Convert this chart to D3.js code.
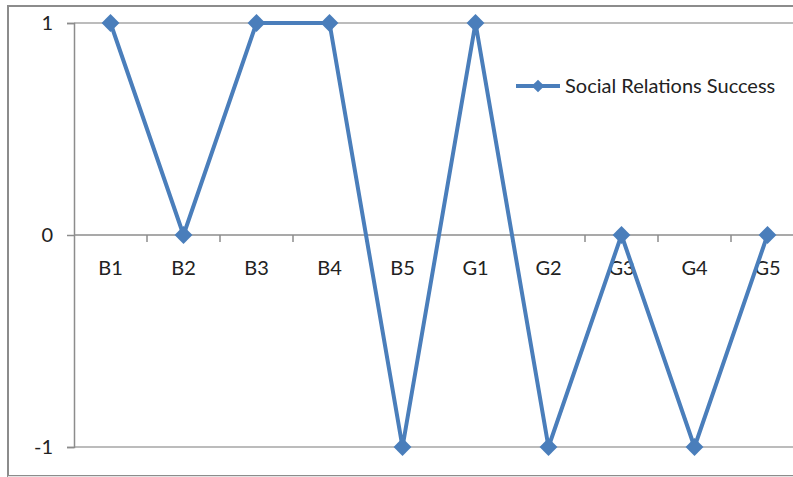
<!DOCTYPE html>
<html>
<head>
<meta charset="utf-8">
<script src="https://cdn.jsdelivr.net/npm/d3@7"></script>
<style>
  html, body { margin: 0; padding: 0; background: #fff; }
  svg { display: block; }
  text { font-family: Lato, "Open Sans", "Liberation Sans", sans-serif; fill: #222; }
</style>
</head>
<body>
<script>
// Data
const categories = ["B1", "B2", "B3", "B4", "B5", "G1", "G2", "G3", "G4", "G5"];
const successValues = [1, 0, 1, 1, -1, 1, -1, 0, -1, 0];
const yTicks = [-1, 0, 1];
const seriesName = "Social Relations Success";

const W = 793, H = 477;
const svg = d3.select("body").append("svg").attr("width", W).attr("height", H);

// Outer chart frame
svg.append("rect")
  .attr("x", 8).attr("y", 6).attr("width", W + 10).attr("height", 470)
  .attr("fill", "none").attr("stroke", "#8c8c8c").attr("stroke-width", 2);
svg.append("line")
  .attr("x1", 8).attr("x2", W).attr("y1", 476.5).attr("y2", 476.5)
  .attr("stroke", "#e4e4e4").attr("stroke-width", 1);

const plotLeft = 74, plotRight = 804, plotTop = 23, plotBottom = 447;

const x = d3.scaleBand().domain(categories).range([plotLeft, plotRight]).padding(0);
const y = d3.scaleLinear().domain([-1, 1]).range([plotBottom, plotTop]);

// Horizontal gridlines
svg.append("g").selectAll("line").data(yTicks.filter(d => d !== 0)).join("line")
  .attr("x1", plotLeft).attr("x2", plotRight)
  .attr("y1", d => y(d)).attr("y2", d => y(d))
  .attr("stroke", "#a6a6a6").attr("stroke-width", 1.5);

// Y axis
const yAxis = svg.append("g").attr("transform", `translate(${plotLeft},0)`)
  .call(d3.axisLeft(y).tickValues(yTicks).tickFormat(d3.format("d")).tickSize(7).tickPadding(14));
yAxis.select(".domain").attr("stroke", "#8c8c8c").attr("stroke-width", 1.5);
yAxis.selectAll(".tick line").attr("stroke", "#8c8c8c").attr("stroke-width", 1.5);
yAxis.selectAll(".tick text").style("font-size", "20px").attr("fill", "#222")
  .text(d => d < 0 ? "-" + Math.abs(d) : d);

// Category axis at zero
const xAxis = svg.append("g").attr("transform", `translate(0,${y(0)})`)
  .call(d3.axisBottom(x).tickSize(0).tickPadding(26));
xAxis.select(".domain").remove();
xAxis.selectAll(".tick text").style("font-size", "20px").attr("fill", "#222");
svg.append("line")
  .attr("x1", plotLeft).attr("x2", plotRight).attr("y1", y(0)).attr("y2", y(0))
  .attr("stroke", "#8c8c8c").attr("stroke-width", 1.5);
svg.append("g").selectAll("line").data(categories.slice(1)).join("line")
  .attr("x1", d => x(d)).attr("x2", d => x(d))
  .attr("y1", y(0)).attr("y2", y(0) + 7)
  .attr("stroke", "#8c8c8c").attr("stroke-width", 1.5);

// Series line
const color = "#4a7ebb";
const pts = categories.map((c, i) => [x(c) + x.bandwidth() / 2, y(successValues[i])]);
svg.append("path")
  .attr("d", d3.line()(pts))
  .attr("fill", "none").attr("stroke", color).attr("stroke-width", 4)
  .attr("stroke-linejoin", "round");

// Diamond markers: a square turned 45 degrees
const diamond = d3.symbol().type(d3.symbolSquare).size(160);
svg.append("g").selectAll("path").data(pts).join("path")
  .attr("transform", d => `translate(${d[0]},${d[1]}) rotate(45)`)
  .attr("d", diamond)
  .attr("fill", color);

// Legend
const legendDiamond = d3.symbol().type(d3.symbolSquare).size(80);
const lg = svg.append("g").attr("transform", "translate(516,86)");
lg.append("line").attr("x1", 0).attr("x2", 44).attr("y1", 0).attr("y2", 0)
  .attr("stroke", color).attr("stroke-width", 4);
lg.append("path").attr("transform", "translate(22,0) rotate(45)").attr("d", legendDiamond).attr("fill", color);
lg.append("text").attr("x", 49).attr("y", 7).style("font-size", "20px").text(seriesName);
</script>
</body>
</html>
